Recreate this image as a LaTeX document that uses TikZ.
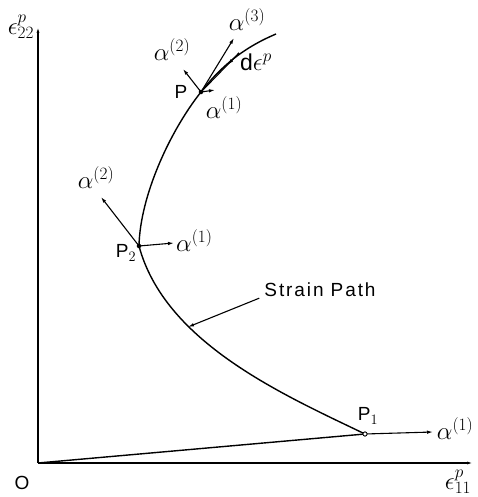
\documentclass[tikz,border=0pt]{standalone}
\usepackage{fontspec}
\setmainfont{Liberation Sans}
\usetikzlibrary{arrows.meta,positioning,calc}

\begin{document}
\begin{tikzpicture}[
    x=1pt, y=1pt,
    axis/.style={-{Latex[length=6pt,width=3pt]}, line width=1.1pt},
    curve/.style={line width=1.4pt},
    vec/.style={-{Latex[length=6pt,width=3.5pt]}, line width=1.1pt},
    dot/.style={circle, fill, inner sep=1.6pt},
    odot/.style={circle, draw, fill=white, inner sep=1.5pt, line width=0.9pt},
    lbl/.style={font=\fontsize{19}{21}\selectfont, inner sep=1pt},
    mlbl/.style={font=\fontsize{23}{25}\selectfont, inner sep=1pt}
]
\useasboundingbox (0,0) rectangle (477,497);
% axes
\coordinate (o) at (38,34);
\coordinate (ytop) at (38,470);
\coordinate (xend) at (473,34);
\draw[axis] (o) -- (ytop);
\draw[axis] (o) -- (xend);
\node[lbl] (olbl) at (22,14) {O};
\node[mlbl] (ylbl) at (21,470) {$\epsilon_{22}^{p}$};
\node[mlbl] (xlbl) at (458,15) {$\epsilon_{11}^{p}$};

% strain path
\coordinate (p1) at (365,63);
\coordinate (p2) at (139,251);
\coordinate (p) at (201,405);
\coordinate (pend) at (276,463);
\draw[curve] (o) -- (p1);
\draw[curve] (p1) .. controls (284,102) and (165,154) .. (p2)
    .. controls (140,301) and (170,366) .. (p)
    .. controls (225,436) and (250,452) .. (pend);

% vectors at P1
\coordinate (a1p1) at (433,65);
\draw[vec] (p1) -- (a1p1);
\node[odot] (p1dot) at (p1) {};
\node[mlbl] (a1p1lbl) at (455,68) {$\alpha^{(1)}$};
\node[lbl] (p1lbl) at (368,81) {P$_1$};

% vectors at P2
\coordinate (a1p2) at (174,254);
\coordinate (a2p2) at (101,300);
\draw[vec] (p2) -- (a1p2);
\draw[vec] (p2) -- (a2p2);
\node[dot] (p2dot) at (p2) {};
\node[mlbl, anchor=west] (a1p2lbl) at (175,256) {$\alpha^{(1)}$};
\node[mlbl] (a2p2lbl) at (96,319) {$\alpha^{(2)}$};
\node[lbl] (p2lbl) at (126,244) {P$_2$};

% vectors at P
\coordinate (a1p) at (215,407);
\coordinate (a2p) at (183,428);
\coordinate (a3p) at (234,459);
\coordinate (deps) at (239,444);
\draw[vec] (p) -- (a1p);
\draw[vec] (p) -- (a2p);
\draw[vec] (p) -- (a3p);
\draw[line width=1.1pt] (deps) -- (p);
\draw[vec] (deps) -- ($(deps)!0.3!(p)$);
\node[dot] (pdot) at (p) {};
\node[lbl] (plbl) at (181,405) {P};
\node[mlbl] (a1plbl) at (224,389) {$\alpha^{(1)}$};
\node[mlbl] (a2plbl) at (172,447) {$\alpha^{(2)}$};
\node[mlbl] (a3plbl) at (247,477) {$\alpha^{(3)}$};
\node[mlbl] (depslbl) at (256,435) {d$\epsilon^{p}$};

% label of the path
\node[lbl, font=\fontsize{19}{21}\selectfont\addfontfeature{LetterSpace=10}] (spl) at (320,207) {Strain Path};
\coordinate (spt) at (188,170);
\draw[vec] ([xshift=-4pt]spl.south west) -- (spt);
\end{tikzpicture}
\end{document}
